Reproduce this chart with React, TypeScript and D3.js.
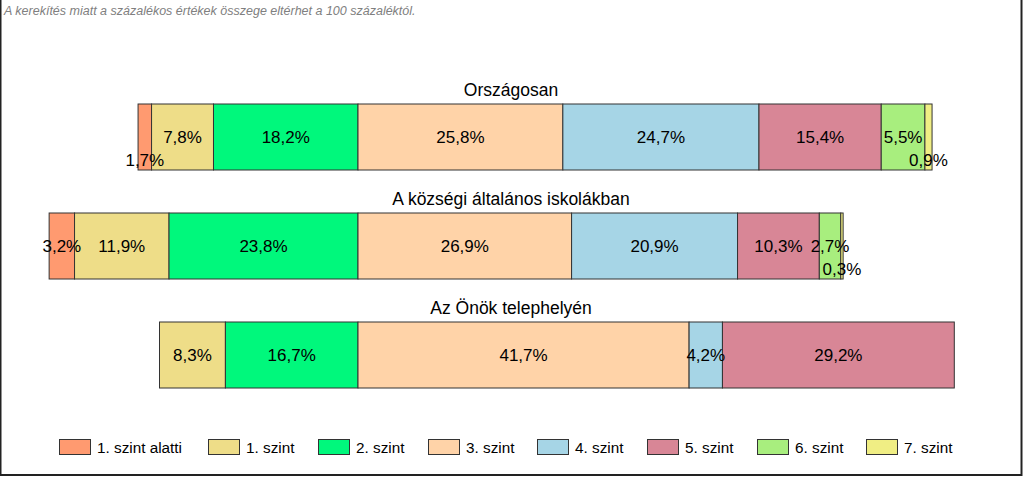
import React from "react";
import * as d3 from "d3";

const levels = ["1. szint alatti", "1. szint", "2. szint", "3. szint", "4. szint", "5. szint", "6. szint", "7. szint"];
const colors = ["#FF9A70", "#EEDD88", "#00F87C", "#FFD3A8", "#A6D5E6", "#D88696", "#A8EE7E", "#F0EE84"];
const groups = ["Országosan", "A községi általános iskolákban", "Az Önök telephelyén"];
const orszagosan = [1.7, 7.8, 18.2, 25.8, 24.7, 15.4, 5.5, 0.9];
const kozsegi = [3.2, 11.9, 23.8, 26.9, 20.9, 10.3, 2.7, 0.3];
const telephely = [0, 8.3, 16.7, 41.7, 4.2, 29.2, 0, 0];
const series = [orszagosan, kozsegi, telephely];
const footnote = "A kerekítés miatt a  százalékos értékek összege eltérhet a 100 százaléktól.";

const W = 1024, H = 478;
const fmt = (v: number) => v.toFixed(1).replace(".", ",") + "%";
const legendX = [59, 208, 318, 428, 537, 647, 757, 866];

export default function App() {
  const x = d3.scaleLinear().domain([-45, 85]).range([358 - 45 * 7.94, 358 + 85 * 7.94]);
  const bandH = 66;
  const font = "'Liberation Sans', Arial, sans-serif";

  return (
    <svg width={W} height={H} style={{ position: "absolute", left: 0, top: 0, background: "#fff" }} fontFamily={font}>
      <rect x={0.5} y={-2} width={1021} height={477} fill="#fff" stroke="#222" strokeWidth={2} />
      <text x={4} y={15} fontSize={12.5} fontStyle="italic" fill="#808080">{footnote}</text>
      {groups.map((g, gi) => {
        const vals = series[gi];
        const leftSum = vals[0] + vals[1] + vals[2];
        let cum = -leftSum;
        const top = [104, 213, 322][gi];
        const segs = vals.map((v, i) => {
          const s = cum;
          cum += v;
          return { v, i, s, e: cum };
        });
        return (
          <g key={g}>
            <text x={511} y={top - 8} textAnchor="middle" fontSize={17.5} fill="#000">{g}</text>
            {segs.filter(d => d.v > 0).map(d => (
              <rect key={d.i} x={x(d.s)} y={top} width={x(d.e) - x(d.s)} height={bandH}
                fill={colors[d.i]} stroke="#333" strokeWidth={1} />
            ))}
            {segs.filter(d => d.v > 0).map(d => (
              <text key={"t" + d.i} x={(x(d.s) + x(d.e)) / 2} y={top + bandH / 2 + (d.v < 2 ? 29 : 6)}
                textAnchor="middle" fontSize={17} fill="#000">{fmt(d.v)}</text>
            ))}
          </g>
        );
      })}
      {levels.map((l, i) => (
        <g key={l} transform={`translate(${legendX[i]},439)`}>
          <rect x={0.5} y={0.5} width={31} height={15} fill={colors[i]} stroke="#333" strokeWidth={1} />
          <text x={38} y={13.5} fontSize={15.3} fill="#000">{l}</text>
        </g>
      ))}
    </svg>
  );
}
